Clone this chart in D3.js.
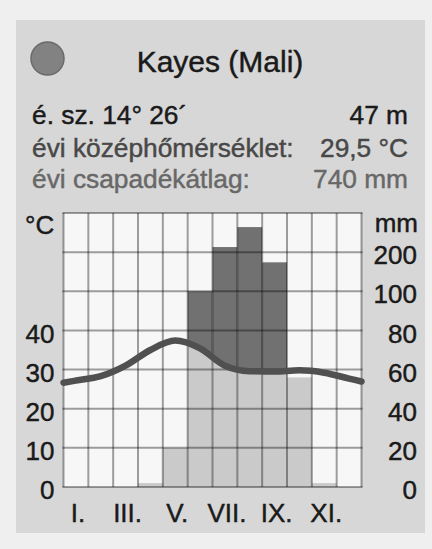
<!DOCTYPE html>
<html><head><meta charset="utf-8">
<script src="https://cdn.jsdelivr.net/npm/d3@7"></script>
<style>html,body{margin:0;padding:0;background:#efefef;} svg{display:block;}</style>
</head><body><svg id="c" width="432" height="549"></svg>
<script>
const months = ["I.","II.","III.","IV.","V.","VI.","VII.","VIII.","IX.","X.","XI.","XII."];
const monthTickLabels = ["I.","III.","V.","VII.","IX.","XI."];
const temperature = [27.2, 28.3, 31.0, 35.0, 37.4, 35.4, 31.0, 29.6, 29.5, 29.8, 29.2, 27.7];
const precipitation = [0, 0, 0, 2, 20, 100, 213, 264, 174, 56, 2, 0];
const tempTicks = [0, 10, 20, 30, 40];
const precipTicks = [0, 20, 40, 60, 80, 100, 200];
const gridTempLevels = [0, 10, 20, 30, 40, 50, 60, 70];
const station = "Kayes (Mali)";
const infoLeft = ["é. sz. 14° 26´", "évi középhőmérséklet:", "évi csapadékátlag:"];
const infoRight = ["47 m", "29,5 °C", "740 mm"];
const infoColors = ["#1a1a1a", "#484848", "#686868"];

const FONT = "'Liberation Sans', Arial, Helvetica, sans-serif";
const svg = d3.select("#c");

function txt(sel, size, color) {
  return sel.attr("font-family", FONT).attr("font-size", size).attr("fill", color)
    .attr("stroke", color).attr("stroke-width", 0.45);
}

// panel
svg.append("rect").attr("x", 0).attr("y", 0).attr("width", 432).attr("height", 549).attr("fill", "#efefef");
svg.append("rect").attr("x", 16).attr("y", 20).attr("width", 409).attr("height", 513).attr("fill", "#d7d7d7");

const x0 = 63.5, x1 = 361.5, yBottom = 487, yTop = 213;
const x = d3.scaleBand().domain(months).range([x0, x1]).paddingInner(0).paddingOuter(0);
const yT = d3.scaleLinear().domain([0, 70]).range([yBottom, yTop]);
const yP = d3.scaleLinear().domain([0, 100, 300]).range([yT(0), yT(50), yT(70)]);
const bw = x.bandwidth();

// header
svg.append("circle").attr("cx", 47.5).attr("cy", 58.5).attr("r", 16.5)
  .attr("fill", "#828282").attr("stroke", "#6a6a6a").attr("stroke-width", 1.5);
txt(svg.append("text").attr("x", 220).attr("y", 72).attr("text-anchor", "middle"), 30, "#1a1a1a").text(station);
const lineY = [124, 157, 188];
infoLeft.forEach((t, i) => {
  txt(svg.append("text").attr("x", 32).attr("y", lineY[i]), 26.3, infoColors[i]).text(t);
  txt(svg.append("text").attr("x", 408).attr("y", lineY[i]).attr("text-anchor", "end"), 26.3, infoColors[i]).text(infoRight[i]);
});

// plot background
svg.append("rect").attr("x", x0).attr("y", yTop).attr("width", x1 - x0).attr("height", yBottom - yTop).attr("fill", "#f7f7f7");

// temperature points (month centres + half-step extrapolation to the frame edges)
const pts = months.map((m, i) => ({ x: x(m) + bw / 2, t: temperature[i] }));
const n = temperature.length;
const edgeL = temperature[0] - (temperature[1] - temperature[0]) / 2;
const edgeR = temperature[n - 1] + (temperature[n - 1] - temperature[n - 2]) / 2;
const curvePts = [{ x: x0, t: edgeL }, ...pts, { x: x1, t: edgeR }];
const curve = d3.curveMonotoneX;

const defs = svg.append("defs");
defs.append("clipPath").attr("id", "above").append("path")
  .attr("d", d3.area().x(d => d.x).y0(yTop - 5).y1(d => yT(d.t)).curve(curve)(curvePts));
defs.append("clipPath").attr("id", "below").append("path")
  .attr("d", d3.area().x(d => d.x).y0(yBottom + 5).y1(d => yT(d.t)).curve(curve)(curvePts));

const barData = months.map((m, i) => ({ m, v: precipitation[i] }));
function bars(g, fill) {
  g.selectAll("rect").data(barData).join("rect")
    .attr("x", d => x(d.m)).attr("width", bw)
    .attr("y", d => yP(d.v)).attr("height", d => yP(0) - yP(d.v))
    .attr("fill", fill);
}
bars(svg.append("g").attr("clip-path", "url(#above)"), "#717171");
bars(svg.append("g").attr("clip-path", "url(#below)"), "#cacaca");

// grid
const grid = svg.append("g").attr("stroke", "rgba(0,0,0,0.37)").attr("stroke-width", 2);
grid.selectAll("line.v").data([...months.map(m => x(m)), x1]).join("line").attr("class", "v")
  .attr("x1", d => d).attr("x2", d => d).attr("y1", yTop).attr("y2", yBottom);
grid.selectAll("line.h").data(gridTempLevels).join("line").attr("class", "h")
  .attr("x1", x0 - 1).attr("x2", x1 + 1).attr("y1", d => yT(d)).attr("y2", d => yT(d));

// temperature line
svg.append("path").attr("d", d3.line().x(d => d.x).y(d => yT(d.t)).curve(curve)(curvePts))
  .attr("fill", "none").attr("stroke", "#505050").attr("stroke-width", 6.5).attr("stroke-linecap", "round");

// axes
function styleAxis(g) {
  g.select(".domain").remove();
  txt(g.selectAll("text"), 26, "#1a1a1a");
}
const la = svg.append("g").attr("transform", `translate(${x0},0)`)
  .call(d3.axisLeft(yT).tickValues(tempTicks).tickSize(0).tickPadding(9));
styleAxis(la); la.selectAll("text").attr("dy", "0.45em");

const ra = svg.append("g").attr("transform", `translate(${x1},0)`)
  .call(d3.axisRight(yP).tickValues(precipTicks).tickSize(0).tickFormat(d3.format("d")));
styleAxis(ra); ra.selectAll("text").attr("text-anchor", "end").attr("x", 417 - x1).attr("dy", "0.45em");

const ba = svg.append("g").attr("transform", `translate(0,${yBottom})`)
  .call(d3.axisBottom(x).tickValues(monthTickLabels).tickSize(0).tickPadding(16.5));
styleAxis(ba); ba.selectAll("text").attr("dx", 2);

// unit labels
txt(svg.append("text").attr("x", 25).attr("y", 234), 26, "#1a1a1a").text("°C");
txt(svg.append("text").attr("x", 418).attr("y", 232).attr("text-anchor", "end"), 26, "#1a1a1a").text("mm");
</script></body></html>
